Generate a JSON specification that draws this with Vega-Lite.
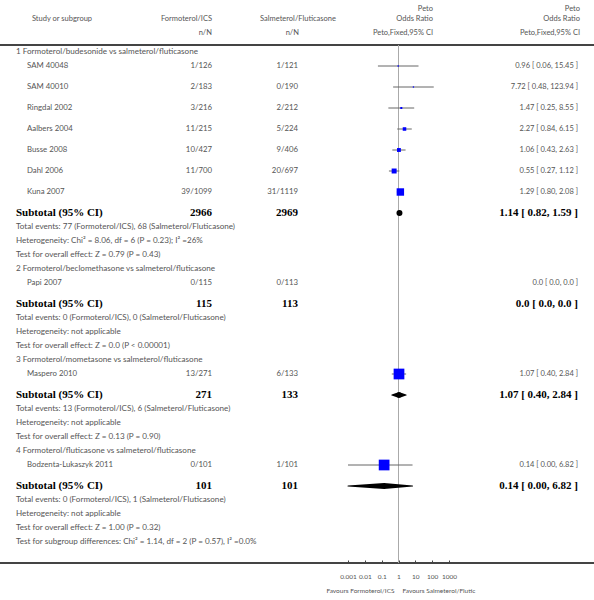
{
  "$schema": "https://vega.github.io/schema/vega-lite/v6.json",
  "width": 594,
  "height": 600,
  "padding": 0,
  "autosize": {"type": "none"},
  "background": "white",
  "config": {
    "view": {"stroke": null},
    "text": {"font": "Lato", "fontSize": 7.5, "color": "#555", "baseline": "middle"}
  },
  "datasets": {
    "rows": [
      {"row": "g1", "kind": "group", "label": "1 Formoterol/budesonide vs salmeterol/fluticasone"},
      {"row": "s1", "kind": "study", "label": "SAM 40048", "n1": "1/126", "n2": "1/121", "est": 0.96, "lo": 0.06, "hi": 15.45, "ci": "0.96 [ 0.06, 15.45 ]", "weight": 1.4},
      {"row": "s2", "kind": "study", "label": "SAM 40010", "n1": "2/183", "n2": "0/190", "est": 7.72, "lo": 0.48, "hi": 123.94, "ci": "7.72 [ 0.48, 123.94 ]", "weight": 1.4},
      {"row": "s3", "kind": "study", "label": "Ringdal 2002", "n1": "3/216", "n2": "2/212", "est": 1.47, "lo": 0.25, "hi": 8.55, "ci": "1.47 [ 0.25, 8.55 ]", "weight": 3.5},
      {"row": "s4", "kind": "study", "label": "Aalbers 2004", "n1": "11/215", "n2": "5/224", "est": 2.27, "lo": 0.84, "hi": 6.15, "ci": "2.27 [ 0.84, 6.15 ]", "weight": 10.9},
      {"row": "s5", "kind": "study", "label": "Busse 2008", "n1": "10/427", "n2": "9/406", "est": 1.06, "lo": 0.43, "hi": 2.63, "ci": "1.06 [ 0.43, 2.63 ]", "weight": 13.2},
      {"row": "s6", "kind": "study", "label": "Dahl 2006", "n1": "11/700", "n2": "20/697", "est": 0.55, "lo": 0.27, "hi": 1.12, "ci": "0.55 [ 0.27, 1.12 ]", "weight": 21.5},
      {"row": "s7", "kind": "study", "label": "Kuna 2007", "n1": "39/1099", "n2": "31/1119", "est": 1.29, "lo": 0.80, "hi": 2.08, "ci": "1.29 [ 0.80, 2.08 ]", "weight": 48.1},
      {"row": "t1", "kind": "subtotal", "label": "Subtotal (95% CI)", "n1": "2966", "n2": "2969", "est": 1.14, "lo": 0.82, "hi": 1.59, "ci": "1.14 [ 0.82, 1.59 ]"},
      {"row": "e1", "kind": "note", "label": "Total events: 77 (Formoterol/ICS), 68 (Salmeterol/Fluticasone)"},
      {"row": "h1", "kind": "note", "label": "Heterogeneity: Chi² = 8.06, df = 6 (P = 0.23); I² =26%"},
      {"row": "z1", "kind": "note", "label": "Test for overall effect: Z = 0.79 (P = 0.43)"},
      {"row": "g2", "kind": "group", "label": "2 Formoterol/beclomethasone vs salmeterol/fluticasone"},
      {"row": "s8", "kind": "study", "label": "Papi 2007", "n1": "0/115", "n2": "0/113", "ci": "0.0 [ 0.0, 0.0 ]"},
      {"row": "t2", "kind": "subtotal", "label": "Subtotal (95% CI)", "n1": "115", "n2": "113", "ci": "0.0 [ 0.0, 0.0 ]"},
      {"row": "e2", "kind": "note", "label": "Total events: 0 (Formoterol/ICS), 0 (Salmeterol/Fluticasone)"},
      {"row": "h2", "kind": "note", "label": "Heterogeneity: not applicable"},
      {"row": "z2", "kind": "note", "label": "Test for overall effect: Z = 0.0 (P < 0.00001)"},
      {"row": "g3", "kind": "group", "label": "3 Formoterol/mometasone vs salmeterol/fluticasone"},
      {"row": "s9", "kind": "study", "label": "Maspero 2010", "n1": "13/271", "n2": "6/133", "est": 1.07, "lo": 0.40, "hi": 2.84, "ci": "1.07 [ 0.40, 2.84 ]", "weight": 100},
      {"row": "t3", "kind": "subtotal", "label": "Subtotal (95% CI)", "n1": "271", "n2": "133", "est": 1.07, "lo": 0.40, "hi": 2.84, "ci": "1.07 [ 0.40, 2.84 ]"},
      {"row": "e3", "kind": "note", "label": "Total events: 13 (Formoterol/ICS), 6 (Salmeterol/Fluticasone)"},
      {"row": "h3", "kind": "note", "label": "Heterogeneity: not applicable"},
      {"row": "z3", "kind": "note", "label": "Test for overall effect: Z = 0.13 (P = 0.90)"},
      {"row": "g4", "kind": "group", "label": "4 Formoterol/fluticasone vs salmeterol/fluticasone"},
      {"row": "s10", "kind": "study", "label": "Bodzenta-Lukaszyk 2011", "n1": "0/101", "n2": "1/101", "est": 0.14, "lo": 0.001, "hi": 6.82, "ci": "0.14 [ 0.00, 6.82 ]", "weight": 100},
      {"row": "t4", "kind": "subtotal", "label": "Subtotal (95% CI)", "n1": "101", "n2": "101", "est": 0.14, "lo": 0.001, "hi": 6.82, "ci": "0.14 [ 0.00, 6.82 ]"},
      {"row": "e4", "kind": "note", "label": "Total events: 0 (Formoterol/ICS), 1 (Salmeterol/Fluticasone)"},
      {"row": "h4", "kind": "note", "label": "Heterogeneity: not applicable"},
      {"row": "z4", "kind": "note", "label": "Test for overall effect: Z = 1.00 (P = 0.32)"},
      {"row": "sg", "kind": "note", "label": "Test for subgroup differences: Chi² = 1.14, df = 2 (P = 0.57), I² =0.0%"}
    ],
    "header": [
      {"row": "hd2", "col": "study", "text": "Study or subgroup"},
      {"row": "hd2", "col": "n1", "text": "Formoterol/ICS"},
      {"row": "hd3", "col": "n1", "text": "n/N"},
      {"row": "hd2", "col": "n2h", "text": "Salmeterol/Fluticasone"},
      {"row": "hd3", "col": "n2", "text": "n/N"},
      {"row": "hd1", "col": "or", "text": "Peto"},
      {"row": "hd2", "col": "or", "text": "Odds Ratio"},
      {"row": "hd3", "col": "or", "text": "Peto,Fixed,95% CI"},
      {"row": "hd1", "col": "ci", "text": "Peto"},
      {"row": "hd2", "col": "ci", "text": "Odds Ratio"},
      {"row": "hd3", "col": "ci", "text": "Peto,Fixed,95% CI"}
    ],
    "lines": [{"row": "top"}, {"row": "bottom"}],
    "ref": [{"or": 1, "row": "top", "row2": "bottom"}],
    "fav": [
      {"row": "fav", "side": "left", "text": "Favours Formoterol/ICS"},
      {"row": "fav", "side": "right", "text": "Favours Salmeterol/Flutic"}
    ]
  },
  "data": {"name": "rows"},
  "encoding": {
    "y": {
      "field": "row", "type": "nominal", "axis": null,
      "scale": {
        "type": "point", "padding": 0, "range": [10, 591],
        "domain": ["hd1","hd2","_2","hd3","_4","top","g1","_7","s1","_9","_10","s2","_12","_13","s3","_15","_16","s4","_18","_19","s5","_21","_22","s6","_24","_25","s7","_27","_28","t1","_30","e1","_32","h1","_34","z1","_36","g2","_38","s8","_40","_41","t2","_43","e2","_45","h2","_47","z2","_49","g3","_51","s9","_53","_54","t3","_56","e3","_58","h3","_60","z3","_62","g4","_64","s10","_66","_67","t4","_69","e4","_71","h4","_73","z4","_75","sg","_77","_78","bottom","_80","_81","_82","fav"]
      }
    }
  },
  "layer": [
    {
      "data": {"name": "lines"},
      "mark": {"type": "rule", "color": "#444", "strokeWidth": 2},
      "encoding": {}
    },
    {
      "data": {"name": "ref"},
      "mark": {"type": "rule", "color": "#aaa", "strokeWidth": 1},
      "encoding": {
        "x": {
          "field": "or", "type": "quantitative",
          "scale": {"type": "log", "domain": [0.001, 1000], "range": [348, 449]},
          "axis": {
            "orient": "bottom", "offset": -37, "values": [0.001, 0.01, 0.1, 1, 10, 100, 1000],
            "format": "~g", "domain": false, "grid": false, "title": null,
            "tickSize": -3, "tickColor": "#444", "labelPadding": 13,
            "labelFont": "Lato", "labelFontSize": 6.5, "labelColor": "#555",
            "labelOverlap": false, "labelFlush": false
          }
        },
        "y2": {"field": "row2"}
      }
    },
    {
      "transform": [{"filter": "datum.kind == 'study' && isValid(datum.lo)"}],
      "mark": {"type": "rule", "color": "#666", "strokeWidth": 1},
      "encoding": {
        "x": {"field": "lo", "type": "quantitative", "scale": {"type": "log", "domain": [0.001, 1000], "range": [348, 449]}, "axis": null},
        "x2": {"field": "hi"}
      }
    },
    {
      "transform": [{"filter": "datum.kind == 'study' && isValid(datum.est)"}],
      "mark": {"type": "point", "shape": "square", "filled": true, "color": "#0000ff", "opacity": 1},
      "encoding": {
        "x": {"field": "est", "type": "quantitative", "scale": {"type": "log", "domain": [0.001, 1000], "range": [348, 449]}, "axis": null},
        "size": {"field": "weight", "type": "quantitative", "scale": {"domain": [0, 100], "range": [0, 115]}, "legend": null}
      }
    },
    {
      "transform": [
        {"filter": "datum.kind == 'subtotal' && isValid(datum.est)"},
        {"fold": ["lo", "est", "hi"], "as": ["pt", "val"]}
      ],
      "mark": {"type": "trail", "color": "black"},
      "encoding": {
        "x": {"field": "val", "type": "quantitative", "scale": {"type": "log", "domain": [0.001, 1000], "range": [348, 449]}, "axis": null},
        "size": {"field": "pt", "type": "ordinal", "scale": {"type": "ordinal", "domain": ["lo", "est", "hi"], "range": [0, 6, 0]}, "legend": null},
        "detail": {"field": "row"},
        "order": {"field": "val", "type": "quantitative"}
      }
    },
    {
      "data": {"name": "fav"},
      "transform": [{"filter": "datum.side == 'left'"}],
      "mark": {"type": "text", "align": "right", "dx": -4, "fontSize": 6.5},
      "encoding": {
        "x": {"datum": 1, "type": "quantitative", "scale": {"type": "log", "domain": [0.001, 1000], "range": [348, 449]}, "axis": null},
        "text": {"field": "text"}
      }
    },
    {
      "data": {"name": "fav"},
      "transform": [{"filter": "datum.side == 'right'"}],
      "mark": {"type": "text", "align": "left", "dx": 4, "fontSize": 6.5},
      "encoding": {
        "x": {"datum": 1, "type": "quantitative", "scale": {"type": "log", "domain": [0.001, 1000], "range": [348, 449]}, "axis": null},
        "text": {"field": "text"}
      }
    },
    {
      "transform": [{"filter": "datum.kind == 'group' || datum.kind == 'note'"}],
      "mark": {"type": "text", "align": "left", "fontSize": 8.1},
      "encoding": {
        "x": {"datum": "indent0", "type": "nominal", "scale": {"type": "point", "padding": 0, "domain": ["indent0", "indent1"], "range": [16, 27]}, "axis": null},
        "text": {"field": "label"}
      }
    },
    {
      "transform": [{"filter": "datum.kind == 'study'"}],
      "mark": {"type": "text", "align": "left", "fontSize": 7.8},
      "encoding": {
        "x": {"datum": "indent1", "type": "nominal", "scale": {"type": "point", "padding": 0, "domain": ["indent0", "indent1"], "range": [16, 27]}, "axis": null},
        "text": {"field": "label"}
      }
    },
    {
      "transform": [{"filter": "datum.kind == 'subtotal'"}],
      "mark": {"type": "text", "align": "left", "font": "Liberation Serif", "fontWeight": "bold", "fontSize": 11, "color": "black"},
      "encoding": {
        "x": {"datum": "indent0", "type": "nominal", "scale": {"type": "point", "padding": 0, "domain": ["indent0", "indent1"], "range": [16, 27]}, "axis": null},
        "text": {"field": "label"}
      }
    },
    {
      "transform": [{"filter": "datum.kind == 'study'"}, {"fold": ["n1", "n2"], "as": ["col", "txt"]}],
      "mark": {"type": "text", "align": "right", "fontSize": 7.8},
      "encoding": {
        "x": {"field": "col", "type": "nominal", "scale": {"type": "point", "padding": 0, "domain": ["n1", "n2"], "range": [212, 298]}, "axis": null},
        "text": {"field": "txt"}
      }
    },
    {
      "transform": [{"filter": "datum.kind == 'subtotal'"}, {"fold": ["n1", "n2"], "as": ["col", "txt"]}],
      "mark": {"type": "text", "align": "right", "font": "Liberation Serif", "fontWeight": "bold", "fontSize": 11, "color": "black"},
      "encoding": {
        "x": {"field": "col", "type": "nominal", "scale": {"type": "point", "padding": 0, "domain": ["n1", "n2"], "range": [212, 298]}, "axis": null},
        "text": {"field": "txt"}
      }
    },
    {
      "transform": [{"filter": "datum.kind == 'study'"}],
      "mark": {"type": "text", "align": "right"},
      "encoding": {
        "x": {"datum": "ci", "type": "nominal", "scale": {"type": "point", "padding": 0, "domain": ["ci"], "range": [578, 578]}, "axis": null},
        "text": {"field": "ci"}
      }
    },
    {
      "transform": [{"filter": "datum.kind == 'subtotal'"}],
      "mark": {"type": "text", "align": "right", "font": "Liberation Serif", "fontWeight": "bold", "fontSize": 11, "color": "black"},
      "encoding": {
        "x": {"datum": "ci", "type": "nominal", "scale": {"type": "point", "padding": 0, "domain": ["ci"], "range": [578, 578]}, "axis": null},
        "text": {"field": "ci"}
      }
    },
    {
      "data": {"name": "header"},
      "transform": [{"filter": "datum.col == 'n1' || datum.col == 'n2'"}],
      "mark": {"type": "text", "align": "right", "dy": 2},
      "encoding": {
        "x": {"field": "col", "type": "nominal", "scale": {"type": "point", "padding": 0, "domain": ["n1", "n2"], "range": [212, 299]}, "axis": null},
        "text": {"field": "text"}
      }
    },
    {
      "data": {"name": "header"},
      "transform": [{"filter": "(datum.col == 'or' || datum.col == 'ci') && datum.row != 'hd1'"}],
      "mark": {"type": "text", "align": "right", "dy": 2},
      "encoding": {
        "x": {"field": "col", "type": "nominal", "scale": {"type": "point", "padding": 0, "domain": ["or", "ci"], "range": [433, 580]}, "axis": null},
        "text": {"field": "text"}
      }
    },
    {
      "data": {"name": "header"},
      "transform": [{"filter": "(datum.col == 'or' || datum.col == 'ci') && datum.row == 'hd1'"}],
      "mark": {"type": "text", "align": "right", "dy": -1},
      "encoding": {
        "x": {"field": "col", "type": "nominal", "scale": {"type": "point", "padding": 0, "domain": ["or", "ci"], "range": [433, 580]}, "axis": null},
        "text": {"field": "text"}
      }
    },
    {
      "data": {"name": "header"},
      "transform": [{"filter": "datum.col == 'study' || datum.col == 'n2h'"}],
      "mark": {"type": "text", "align": "center", "dy": 2},
      "encoding": {
        "x": {"field": "col", "type": "nominal", "scale": {"type": "point", "padding": 0, "domain": ["study", "n2h"], "range": [62, 298]}, "axis": null},
        "text": {"field": "text"}
      }
    }
  ],
  "resolve": {"scale": {"x": "independent", "size": "independent"}, "axis": {"x": "independent"}}
}
